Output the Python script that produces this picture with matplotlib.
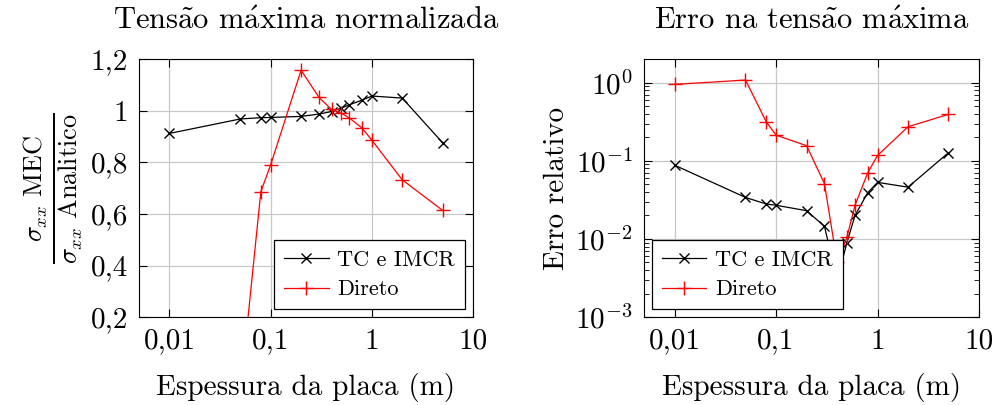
import matplotlib
matplotlib.use("Agg")
import matplotlib.pyplot as plt
from matplotlib.ticker import FixedLocator, LogLocator, NullFormatter

plt.rcParams['font.family'] = ['cmr10', 'DejaVu Serif']
plt.rcParams['mathtext.fontset'] = 'cm'
plt.rcParams['axes.formatter.use_mathtext'] = True

# espessura da placa (m)
espessura = [0.01, 0.05, 0.08, 0.1, 0.2, 0.3, 0.4, 0.5, 0.6, 0.8, 1.0, 2.0, 5.0]

# tensao maxima normalizada
norm_tc = [0.912, 0.968, 0.973, 0.974, 0.978, 0.987, 0.997, 1.010, 1.023, 1.041, 1.057, 1.049, 0.876]
norm_direto = [0.05, -0.10, 0.686, 0.790, 1.157, 1.052, 1.005, 0.990, 0.972, 0.933, 0.886, 0.732, 0.614]

# erro relativo
erro_tc = [0.088, 0.034, 0.028, 0.027, 0.023, 0.0145, 0.003, 0.009, 0.020, 0.039, 0.053, 0.046, 0.127]
erro_direto = [0.95, 1.08, 0.316, 0.213, 0.156, 0.051, 0.005, 0.0106, 0.027, 0.070, 0.117, 0.273, 0.393]

x_ticks = [0.01, 0.1, 1, 10]
x_ticklabels = ["0,01", "0,1", "1", "10"]
y_ticks = [0.2, 0.4, 0.6, 0.8, 1.0, 1.2]
y_ticklabels = ["0,2", "0,4", "0,6", "0,8", "1", "1,2"]

# acentos via mathtext (cmr10 nao tem os glifos acentuados)
titulo1 = r"Tens$\tilde{\mathrm{a}}$o m$\acute{\mathrm{a}}$xima normalizada"
titulo2 = r"Erro na tens$\tilde{\mathrm{a}}$o m$\acute{\mathrm{a}}$xima"

fig = plt.figure(figsize=(10, 4.05), dpi=100)
ax1 = fig.add_axes([0.139, 0.217, 0.334, 0.637])
ax2 = fig.add_axes([0.644, 0.217, 0.335, 0.637])


def estilo(ax):
    ax.set_xscale('log')
    ax.set_xlim(0.005, 10)
    ax.set_xticks(x_ticks)
    ax.set_xticklabels(x_ticklabels)
    ax.xaxis.set_minor_formatter(NullFormatter())
    ax.grid(True, which='major', color='#c8c8c8', linewidth=0.9)
    ax.set_axisbelow(True)
    ax.tick_params(which='both', direction='in', top=True, right=True, labelsize=21, pad=8)
    ax.tick_params(which='major', length=6)
    ax.tick_params(which='minor', length=3.5)
    ax.set_xlabel("Espessura da placa (m)", fontsize=21, labelpad=13)


def legenda(ax, loc):
    leg = ax.legend(loc=loc, fontsize=16, frameon=True, fancybox=False, edgecolor='black',
                    framealpha=1, borderaxespad=0.35, handlelength=2.0, handletextpad=0.4,
                    labelspacing=0.45, borderpad=0.45)
    leg.get_frame().set_linewidth(0.9)
    leg.set_zorder(5)


ax1.plot(espessura, norm_tc, color='black', marker='x', markersize=7, linewidth=0.9, label="TC e IMCR")
ax1.plot(espessura, norm_direto, color='red', marker='+', markersize=10, linewidth=0.9, label="Direto")
estilo(ax1)
ax1.set_ylim(0.2, 1.2)
ax1.yaxis.set_major_locator(FixedLocator(y_ticks))
ax1.set_yticklabels(y_ticklabels)
ax1.set_ylabel(r"$\frac{\sigma_{xx}\ \mathrm{MEC}}{\sigma_{xx}\ \mathrm{Analitico}}$", fontsize=27, labelpad=4)
ax1.set_title(titulo1, fontsize=22, pad=22)
legenda(ax1, 'lower right')

ax2.plot(espessura, erro_tc, color='black', marker='x', markersize=7, linewidth=0.9, label="TC e IMCR")
ax2.plot(espessura, erro_direto, color='red', marker='+', markersize=10, linewidth=0.9, label="Direto")
estilo(ax2)
ax2.set_yscale('log')
ax2.set_ylim(1e-3, 2)
ax2.yaxis.set_major_locator(LogLocator(base=10, numticks=10))
ax2.yaxis.set_minor_locator(LogLocator(base=10, subs=range(2, 10), numticks=10))
ax2.yaxis.set_minor_formatter(NullFormatter())
ax2.set_ylabel("Erro relativo", fontsize=21, labelpad=4)
ax2.set_title(titulo2, fontsize=22, pad=22)
legenda(ax2, 'lower left')

fig.savefig("out.png", dpi=100)
